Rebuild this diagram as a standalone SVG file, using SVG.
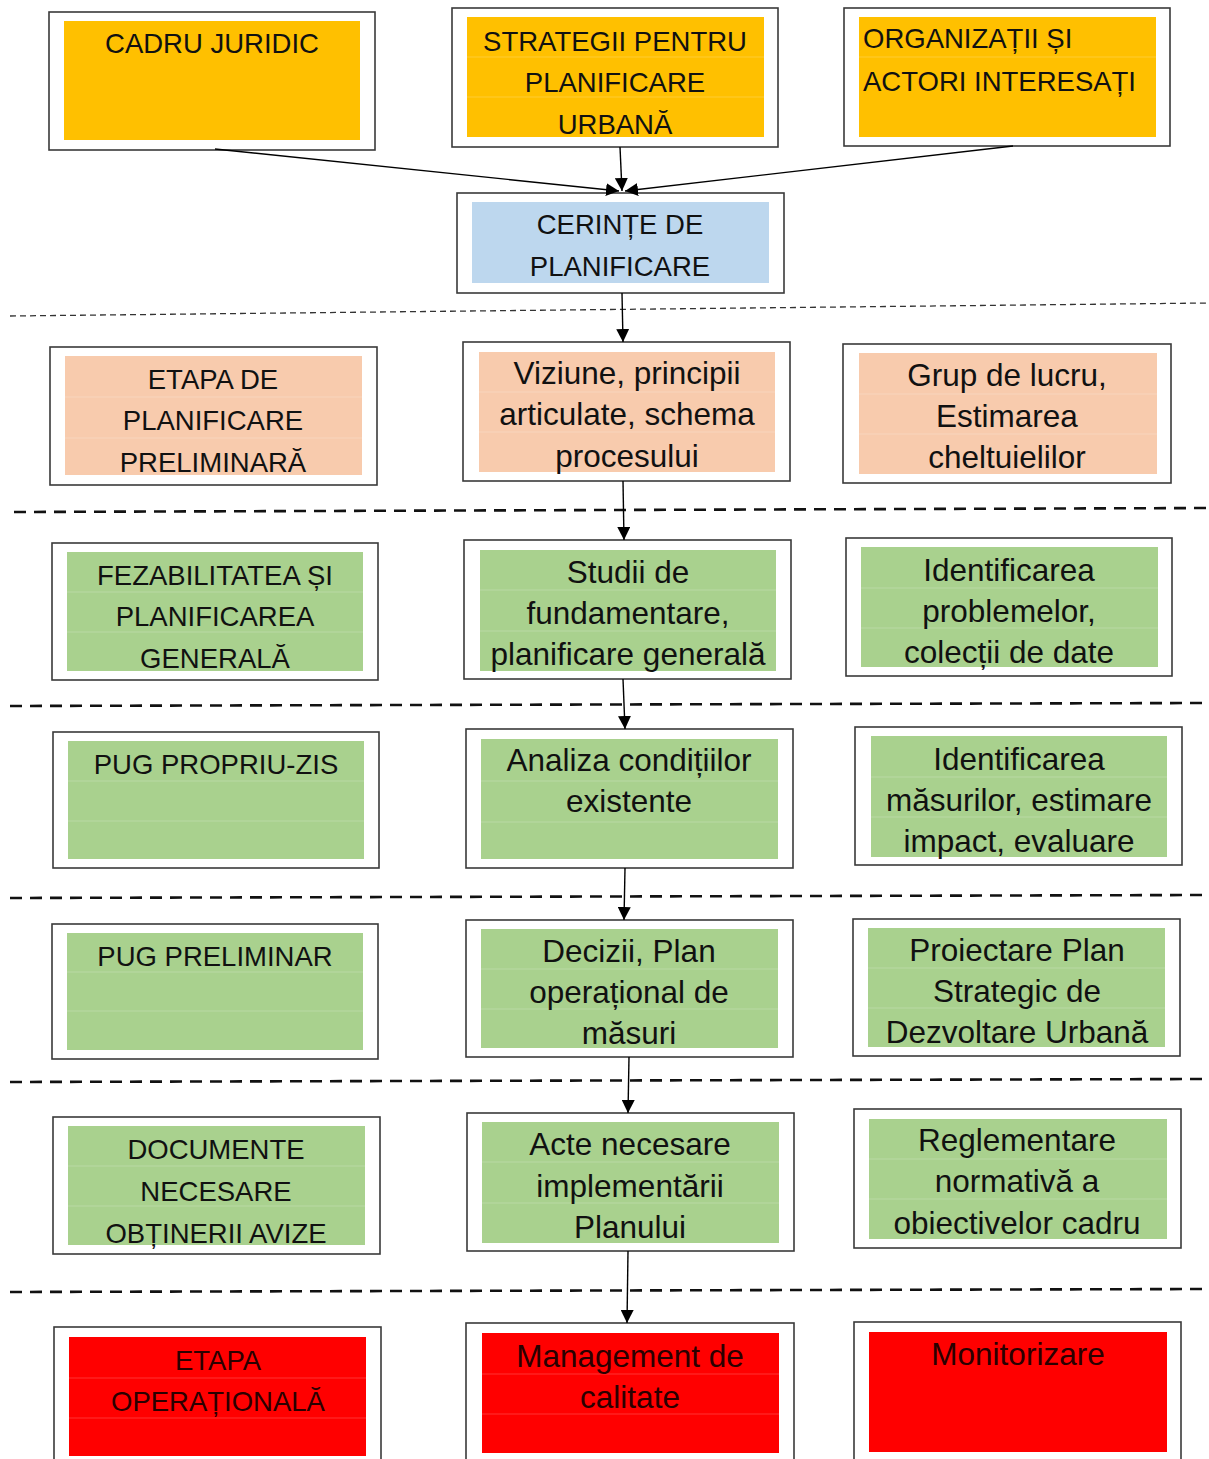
<svg xmlns="http://www.w3.org/2000/svg" width="1209" height="1459" viewBox="0 0 1209 1459">
<defs>
<marker id="ah" viewBox="0 0 13 13" refX="13" refY="6.5" markerWidth="13" markerHeight="13" markerUnits="userSpaceOnUse" orient="auto">
<path d="M0,0 L13,6.5 L0,13 z" fill="#000"/>
</marker>
<style>
.o{fill:#fff;stroke:#3a3a3a;stroke-width:1.6}
.or{fill:#FFC000}.bl{fill:#BDD7EE}.pe{fill:#F8CBAD}.gr{fill:#A9D18E}.rd{fill:#FF0000}
.rl{stroke:#ffffff;stroke-opacity:0.2;stroke-width:1}
text{font-family:"Liberation Sans",Arial,sans-serif;fill:#111;text-anchor:middle}
.c{font-size:27.5px}
.m{font-size:31.5px}
.dk{fill:#2a0000}
.cn{stroke:#000;stroke-width:1.4;fill:none}
.d1{stroke:#333;stroke-width:1.3;stroke-dasharray:6 4;fill:none}
.d2{stroke:#111;stroke-width:2.6;stroke-dasharray:12 8;fill:none}
</style>
</defs>
<g id="separators">
<path class="d1" d="M10,316 L1209,303"/>
<path class="d2" d="M14,512 L1209,508"/>
<path class="d2" d="M10,706 L1209,703"/>
<path class="d2" d="M10,898 L1209,895"/>
<path class="d2" d="M10,1082 L1209,1079"/>
<path class="d2" d="M10,1292 L1209,1289"/>
</g>
<g id="n-cadru"><rect class="o" x="49" y="12" width="326" height="138"/><rect class="or" x="64" y="21" width="296" height="119"/><text class="c" x="212" y="53">CADRU JURIDIC</text></g>
<g id="n-strategii"><rect class="o" x="452" y="8" width="326" height="139"/><rect class="or" x="467" y="17" width="297" height="120"/><line class="rl" x1="467" y1="57" x2="764" y2="57"/><line class="rl" x1="467" y1="97" x2="764" y2="97"/><text class="c" x="615" y="51">STRATEGII PENTRU</text><text class="c" x="615" y="92">PLANIFICARE</text><text class="c" x="615" y="134">URBANĂ</text></g>
<g id="n-organizatii"><rect class="o" x="844" y="8" width="326" height="138"/><rect class="or" x="859" y="17" width="297" height="120"/><line class="rl" x1="859" y1="57" x2="1156" y2="57"/><text class="c" x="863" y="48" style="text-anchor:start">ORGANIZAȚII ȘI</text><text class="c" x="863" y="91" style="text-anchor:start">ACTORI INTERESAȚI</text></g>
<g id="n-cerinte"><rect class="o" x="457" y="193" width="327" height="100"/><rect class="bl" x="472" y="202" width="297" height="81"/><text class="c" x="620" y="234">CERINȚE DE</text><text class="c" x="620" y="276">PLANIFICARE</text></g>
<g id="n-etapa-pre"><rect class="o" x="50" y="347" width="327" height="138"/><rect class="pe" x="65" y="356" width="297" height="119"/><line class="rl" x1="65" y1="397" x2="362" y2="397"/><line class="rl" x1="65" y1="438" x2="362" y2="438"/><text class="c" x="213" y="389">ETAPA DE</text><text class="c" x="213" y="430">PLANIFICARE</text><text class="c" x="213" y="472">PRELIMINARĂ</text></g>
<g id="n-viziune"><rect class="o" x="463" y="342" width="327" height="139"/><rect class="pe" x="479" y="352" width="296" height="120"/><line class="rl" x1="479" y1="392" x2="775" y2="392"/><line class="rl" x1="479" y1="432" x2="775" y2="432"/><text class="m" x="627" y="384">Viziune, principii</text><text class="m" x="627" y="425">articulate, schema</text><text class="m" x="627" y="467">procesului</text></g>
<g id="n-grup"><rect class="o" x="843" y="344" width="328" height="139"/><rect class="pe" x="859" y="353" width="298" height="121"/><line class="rl" x1="859" y1="394" x2="1157" y2="394"/><line class="rl" x1="859" y1="434" x2="1157" y2="434"/><text class="m" x="1007" y="386">Grup de lucru,</text><text class="m" x="1007" y="427">Estimarea</text><text class="m" x="1007" y="468">cheltuielilor</text></g>
<g id="n-fezabilitatea"><rect class="o" x="52" y="543" width="326" height="137"/><rect class="gr" x="67" y="552" width="296" height="119"/><line class="rl" x1="67" y1="592" x2="363" y2="592"/><line class="rl" x1="67" y1="632" x2="363" y2="632"/><text class="c" x="215" y="585">FEZABILITATEA ȘI</text><text class="c" x="215" y="626">PLANIFICAREA</text><text class="c" x="215" y="668">GENERALĂ</text></g>
<g id="n-studii"><rect class="o" x="464" y="540" width="327" height="139"/><rect class="gr" x="480" y="550" width="296" height="121"/><line class="rl" x1="480" y1="590" x2="776" y2="590"/><line class="rl" x1="480" y1="631" x2="776" y2="631"/><text class="m" x="628" y="583">Studii de</text><text class="m" x="628" y="624">fundamentare,</text><text class="m" x="628" y="665">planificare generală</text></g>
<g id="n-identificarea"><rect class="o" x="846" y="538" width="326" height="138"/><rect class="gr" x="861" y="547" width="297" height="120"/><line class="rl" x1="861" y1="588" x2="1158" y2="588"/><line class="rl" x1="861" y1="628" x2="1158" y2="628"/><text class="m" x="1009" y="581">Identificarea</text><text class="m" x="1009" y="622">problemelor,</text><text class="m" x="1009" y="663">colecții de date</text></g>
<g id="n-pug-propriu"><rect class="o" x="53" y="732" width="326" height="136"/><rect class="gr" x="68" y="741" width="296" height="118"/><line class="rl" x1="68" y1="781" x2="364" y2="781"/><line class="rl" x1="68" y1="821" x2="364" y2="821"/><text class="c" x="216" y="774">PUG PROPRIU-ZIS</text></g>
<g id="n-analiza"><rect class="o" x="466" y="729" width="327" height="139"/><rect class="gr" x="481" y="739" width="297" height="120"/><line class="rl" x1="481" y1="781" x2="778" y2="781"/><line class="rl" x1="481" y1="822" x2="778" y2="822"/><text class="m" x="629" y="771">Analiza condițiilor</text><text class="m" x="629" y="812">existente</text></g>
<g id="n-masuri"><rect class="o" x="855" y="727" width="327" height="138"/><rect class="gr" x="871" y="736" width="296" height="121"/><line class="rl" x1="871" y1="777" x2="1167" y2="777"/><line class="rl" x1="871" y1="817" x2="1167" y2="817"/><text class="m" x="1019" y="770">Identificarea</text><text class="m" x="1019" y="811">măsurilor, estimare</text><text class="m" x="1019" y="852">impact, evaluare</text></g>
<g id="n-pug-preliminar"><rect class="o" x="52" y="924" width="326" height="135"/><rect class="gr" x="67" y="933" width="296" height="117"/><line class="rl" x1="67" y1="972" x2="363" y2="972"/><line class="rl" x1="67" y1="1011" x2="363" y2="1011"/><text class="c" x="215" y="966">PUG PRELIMINAR</text></g>
<g id="n-decizii"><rect class="o" x="466" y="920" width="327" height="137"/><rect class="gr" x="481" y="929" width="297" height="119"/><line class="rl" x1="481" y1="969" x2="778" y2="969"/><line class="rl" x1="481" y1="1009" x2="778" y2="1009"/><text class="m" x="629" y="962">Decizii, Plan</text><text class="m" x="629" y="1003">operațional de</text><text class="m" x="629" y="1044">măsuri</text></g>
<g id="n-proiectare"><rect class="o" x="853" y="919" width="327" height="137"/><rect class="gr" x="868" y="928" width="297" height="119"/><line class="rl" x1="868" y1="968" x2="1165" y2="968"/><line class="rl" x1="868" y1="1008" x2="1165" y2="1008"/><text class="m" x="1017" y="961">Proiectare Plan</text><text class="m" x="1017" y="1002">Strategic de</text><text class="m" x="1017" y="1043">Dezvoltare Urbană</text></g>
<g id="n-documente"><rect class="o" x="53" y="1117" width="327" height="137"/><rect class="gr" x="68" y="1126" width="297" height="119"/><line class="rl" x1="68" y1="1166" x2="365" y2="1166"/><line class="rl" x1="68" y1="1206" x2="365" y2="1206"/><text class="c" x="216" y="1159">DOCUMENTE</text><text class="c" x="216" y="1201">NECESARE</text><text class="c" x="216" y="1243">OBȚINERII AVIZE</text></g>
<g id="n-acte"><rect class="o" x="467" y="1113" width="327" height="138"/><rect class="gr" x="482" y="1122" width="297" height="121"/><line class="rl" x1="482" y1="1162" x2="779" y2="1162"/><line class="rl" x1="482" y1="1203" x2="779" y2="1203"/><text class="m" x="630" y="1155">Acte necesare</text><text class="m" x="630" y="1197">implementării</text><text class="m" x="630" y="1238">Planului</text></g>
<g id="n-reglementare"><rect class="o" x="854" y="1109" width="327" height="139"/><rect class="gr" x="869" y="1119" width="298" height="120"/><line class="rl" x1="869" y1="1159" x2="1167" y2="1159"/><line class="rl" x1="869" y1="1199" x2="1167" y2="1199"/><text class="m" x="1017" y="1151">Reglementare</text><text class="m" x="1017" y="1192">normativă a</text><text class="m" x="1017" y="1234">obiectivelor cadru</text></g>
<g id="n-etapa-op"><rect class="o" x="54" y="1327" width="327" height="140"/><rect class="rd" x="69" y="1337" width="297" height="119"/><line class="rl" x1="69" y1="1378" x2="366" y2="1378"/><line class="rl" x1="69" y1="1418" x2="366" y2="1418"/><text class="c dk" x="218" y="1370">ETAPA</text><text class="c dk" x="218" y="1411">OPERAȚIONALĂ</text></g>
<g id="n-management"><rect class="o" x="466" y="1323" width="328" height="145"/><rect class="rd" x="482" y="1333" width="297" height="120"/><line class="rl" x1="482" y1="1374" x2="779" y2="1374"/><line class="rl" x1="482" y1="1414" x2="779" y2="1414"/><text class="m dk" x="630" y="1367">Management de</text><text class="m dk" x="630" y="1408">calitate</text></g>
<g id="n-monitorizare"><rect class="o" x="854" y="1322" width="327" height="145"/><rect class="rd" x="869" y="1332" width="298" height="120"/><text class="m dk" x="1018" y="1365">Monitorizare</text></g>
<g id="connectors">
<path class="cn" d="M215,149 L619,191" marker-end="url(#ah)"/>
<path class="cn" d="M620,147 L622,191" marker-end="url(#ah)"/>
<path class="cn" d="M1013,146 L625,191" marker-end="url(#ah)"/>
<path class="cn" d="M622,293 L623,342" marker-end="url(#ah)"/>
<path class="cn" d="M623,481 L624,540" marker-end="url(#ah)"/>
<path class="cn" d="M623,679 L625,729" marker-end="url(#ah)"/>
<path class="cn" d="M625,868 L624,920" marker-end="url(#ah)"/>
<path class="cn" d="M629,1057 L628,1113" marker-end="url(#ah)"/>
<path class="cn" d="M628,1251 L627,1323" marker-end="url(#ah)"/>
</g>
</svg>
